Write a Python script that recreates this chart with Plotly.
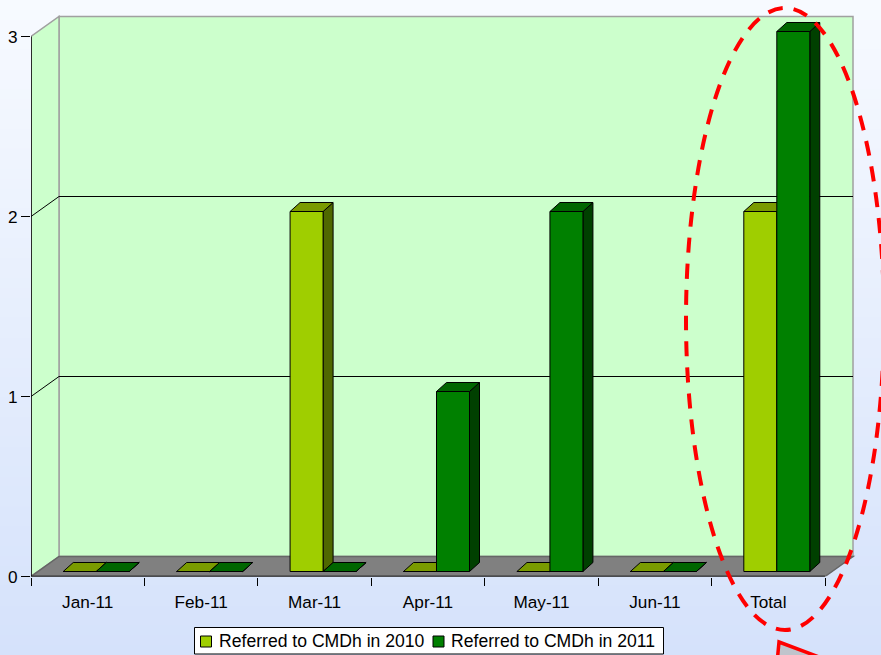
import plotly.graph_objects as go

categories = ["Jan-11", "Feb-11", "Mar-11", "Apr-11", "May-11", "Jun-11", "Total"]
referred_2010 = [0, 0, 2, 0, 0, 0, 2]
referred_2011 = [0, 0, 0, 1, 2, 0, 3]
value_ticks = [0, 1, 2, 3]
series_names = ["Referred to CMDh in 2010", "Referred to CMDh in 2011"]

W, H = 881, 655
LEFT, RIGHT, TOP, BOTTOM = 31, 857, 13.5, 576.5
PX_CAT = 113.43
PX_VAL = 180.0

WALL_DX, WALL_DY = 28 / PX_CAT, 20 / PX_VAL
BAR_DX, BAR_BASE = 8.5 / PX_CAT, 5 / PX_VAL
BAR_W = 33 / PX_CAT
DEPTH_DX, DEPTH_DY = 10 / PX_CAT, 9 / PX_VAL

X0, X1 = -0.5, len(categories) - 0.5
V_TOP = max(value_ticks)

FACE = ["#9fce00", "#008000"]
TOPF = ["#7a9b00", "#006600"]
SIDE = ["#4f6800", "#004000"]
WALL, FLOOR, EDGE = "#ccffcc", "#808080", "#a0a0a0"


def py(p):
    return 1 - p / H


def poly(points, fill, line="black", width=1):
    path = "M " + " L ".join(f"{x:.5f},{y:.5f}" for x, y in points) + " Z"
    return dict(type="path", path=path, xref="x", yref="y", layer="below",
                fillcolor=fill, line=dict(color=line, width=width))


def seg(points, color, width=1):
    path = "M " + " L ".join(f"{x:.5f},{y:.5f}" for x, y in points)
    return dict(type="path", path=path, xref="x", yref="y", layer="below",
                line=dict(color=color, width=width))


shapes = []

# page gradient
TOP_RGB, BOT_RGB = (247, 250, 255), (213, 226, 251)
BANDS = 66
for i in range(BANDS):
    t = i / (BANDS - 1)
    c = [round(a + (b - a) * t) for a, b in zip(TOP_RGB, BOT_RGB)]
    shapes.append(dict(type="rect", xref="paper", yref="paper", layer="below",
                       x0=0, x1=1, y0=0, y1=1 - i / BANDS,
                       fillcolor=f"rgb({c[0]},{c[1]},{c[2]})", line=dict(width=0)))

# walls and floor
shapes.append(poly([(X0 + WALL_DX, WALL_DY), (X1 + WALL_DX, WALL_DY),
                    (X1 + WALL_DX, V_TOP + WALL_DY), (X0 + WALL_DX, V_TOP + WALL_DY)],
                   WALL, EDGE, 1.5))
shapes.append(poly([(X0, 0), (X0 + WALL_DX, WALL_DY), (X0 + WALL_DX, V_TOP + WALL_DY), (X0, V_TOP)],
                   WALL, EDGE, 1.5))
for v in value_ticks[1:-1]:
    shapes.append(seg([(X0, v), (X0 + WALL_DX, v + WALL_DY), (X1 + WALL_DX, v + WALL_DY)], "black"))
shapes.append(poly([(X0, 0), (X1, 0), (X1 + WALL_DX, WALL_DY), (X0 + WALL_DX, WALL_DY)],
                   FLOOR, "#666666", 1.5))

# bar depth faces, 2010 first so the 2011 faces sit in front
for s, values in enumerate([referred_2010, referred_2011]):
    for i, v in enumerate(values):
        xl = i + BAR_DX + (s - 1) * BAR_W
        xr = xl + BAR_W
        top = v + BAR_BASE
        shapes.append(poly([(xr, BAR_BASE), (xr, top), (xr + DEPTH_DX, top + DEPTH_DY),
                            (xr + DEPTH_DX, BAR_BASE + DEPTH_DY)], SIDE[s]))
        shapes.append(poly([(xl, top), (xr, top), (xr + DEPTH_DX, top + DEPTH_DY),
                            (xl + DEPTH_DX, top + DEPTH_DY)], TOPF[s]))


# dashed ellipse and callout
shapes.append(dict(type="circle", xref="paper", yref="paper", layer="above",
                   x0=686 / W, x1=884 / W, y0=py(630), y1=py(8),
                   line=dict(color="#ff0000", width=4, dash="15px,11px")))
shapes.append(dict(type="path", xref="paper", yref="paper", layer="above",
                   path=f"M {779/W},{py(642)} L {835/W},{py(663)} L {777/W},{py(663)} Z",
                   fillcolor="#c0c4cc", line=dict(color="#ff0000", width=3.5)))

# legend
LEG_FONT = dict(family="Liberation Sans, Arial, sans-serif", size=17.6, color="black")
shapes.append(dict(type="rect", xref="paper", yref="paper", layer="above",
                   x0=194.5 / W, x1=663.5 / W, y0=py(654), y1=py(627.5),
                   fillcolor="white", line=dict(color="black", width=1)))
annotations = []
for s, (sx, tx) in enumerate([(200.5, 218), (433, 450)]):
    shapes.append(dict(type="rect", xref="paper", yref="paper", layer="above",
                       x0=sx / W, x1=(sx + 11) / W, y0=py(647), y1=py(636),
                       fillcolor=FACE[s], line=dict(color="black", width=1)))
    annotations.append(dict(text=series_names[s], xref="paper", yref="paper",
                            x=tx / W, y=py(641), xanchor="left", yanchor="middle",
                            showarrow=False, font=LEG_FONT, borderpad=0))

fig = go.Figure()
for s, values in enumerate([referred_2010, referred_2011]):
    fig.add_trace(go.Bar(
        x=[i + BAR_DX + (s - 0.5) * BAR_W for i in range(len(categories))],
        y=values, base=BAR_BASE, width=BAR_W, name=series_names[s],
        marker=dict(color=FACE[s], line=dict(color="black", width=1)),
        showlegend=False, hoverinfo="skip"))

# front axis lines
fig.add_trace(go.Scatter(x=[X0, X0, X1], y=[V_TOP, 0, 0], mode="lines",
                         line=dict(color="black", width=1.5), cliponaxis=False,
                         showlegend=False, hoverinfo="skip"))

fig.update_layout(
    template="none",
    width=W, height=H, margin=dict(l=0, r=0, t=0, b=0, pad=0, autoexpand=False),
    paper_bgcolor="#e6edfd", plot_bgcolor="rgba(0,0,0,0)",
    barmode="overlay", showlegend=False, shapes=shapes, annotations=annotations,
    font=dict(family="Liberation Sans, Arial, sans-serif", size=17.2, color="black"),
    xaxis=dict(domain=[LEFT / W, RIGHT / W], automargin=False,
               range=[X0, X0 + (RIGHT - LEFT) / PX_CAT],
               tickmode="array", tickvals=list(range(len(categories))), ticktext=categories,
               ticks="", showgrid=False, zeroline=False, showline=False,
               ticklabelstandoff=13, tickangle=0,
               minor=dict(ticks="outside", ticklen=8, tickwidth=1, tickcolor="black",
                          tickmode="array",
                          tickvals=[i - 0.5 for i in range(len(categories) + 1)],
                          showgrid=False)),
    yaxis=dict(domain=[py(BOTTOM), py(TOP)], automargin=False,
               range=[0, (BOTTOM - TOP) / PX_VAL],
               tickmode="array", tickvals=value_ticks,
               ticks="outside", ticklen=9, tickwidth=1, tickcolor="black",
               showgrid=False, zeroline=False, showline=False),
)

fig.write_html("out.html", config=dict(displayModeBar=False),
               post_script="document.documentElement.style.margin='0';document.body.style.margin='0';document.body.style.padding='0';window.scrollTo(0,0);")
